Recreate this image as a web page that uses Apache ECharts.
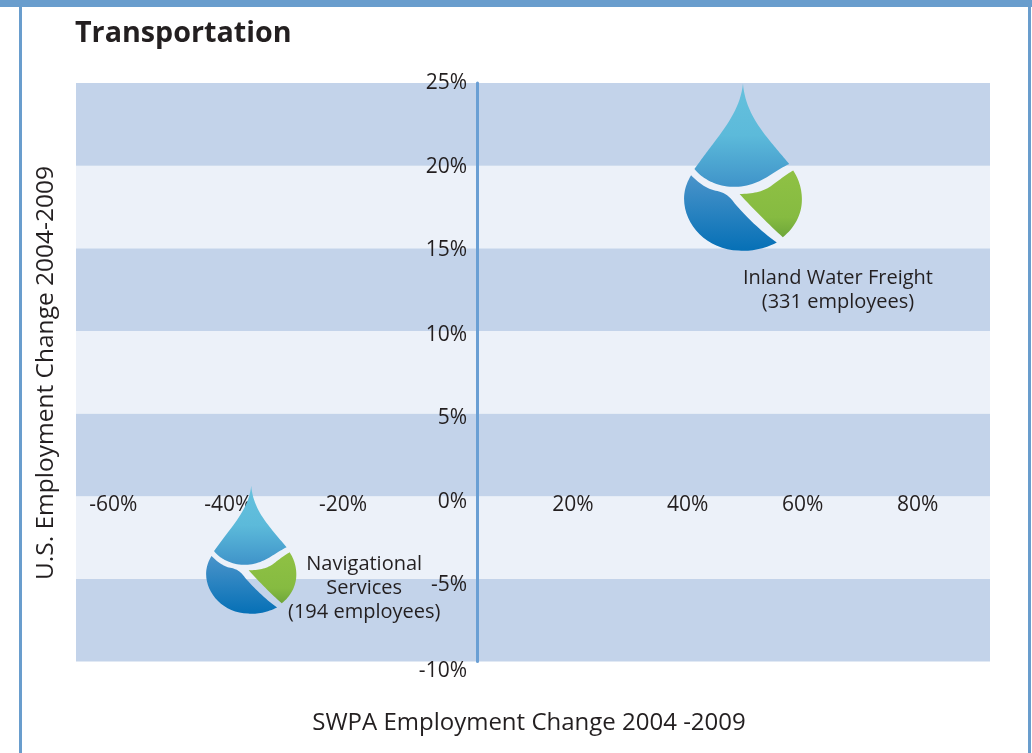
<!doctype html>
<html>
<head>
<meta charset="utf-8">
<title>Transportation</title>
<script src="https://cdn.jsdelivr.net/npm/echarts@6/dist/echarts.min.js"></script>
<style>html,body{margin:0;padding:0;background:#fff}</style>
</head>
<body>
<div id="chart" style="width:1032px;height:753px;"></div>
<script>
var names = ['Inland Water Freight', 'Navigational\nServices'];
var swpaChange = [46.3, -39.3];
var usChange = [18, -4.7];
var employees = [331, 194];
var xTicks = [-60, -40, -20, 20, 40, 60, 80];
var yTicks = [-10, -5, 0, 5, 10, 15, 20, 25];

var textColor = '#231f20';
var fontName = '"Open Sans", "Noto Sans", sans-serif';
var frameColor = '#699dcd';

// drop outline, one start point then cubic segments, anchored on the belly centre
var dropTop = [[217, 28],
  [222, 90, 250, 140, 290, 190], [312, 218, 333, 242, 355, 268], [320, 285, 290, 310, 260, 322],
  [220, 340, 170, 342, 130, 325], [105, 315, 85, 300, 72, 283], [91, 257, 110, 231, 130, 205], [175, 145, 210, 95, 217, 28]];
var dropLeft = [[62, 302],
  [85, 325, 105, 340, 130, 347], [160, 352, 175, 362, 193, 387], [228, 427, 268, 467, 318, 503],
  [280, 522, 240, 530, 205, 527], [110, 525, 41, 450, 41, 372], [41, 345, 50, 322, 62, 302]];
var dropGreen = [[367, 288],
  [385, 315, 393, 345, 393, 375], [393, 420, 370, 460, 336, 487], [295, 450, 250, 405, 207, 358],
  [245, 357, 275, 352, 300, 335], [320, 320, 345, 300, 367, 288]];
var dropAnchor = [217, 372];

function grad(stops) {
  return new echarts.graphic.LinearGradient(0, 0, 0, 1, stops.map(function (s) {
    return {offset: s[0], color: s[1]};
  }));
}

function samplePiece(piece, cx, cy, k) {
  var pts = [];
  var x0 = piece[0][0], y0 = piece[0][1];
  for (var i = 1; i < piece.length; i++) {
    var c = piece[i];
    for (var j = 0; j < 16; j++) {
      var t = j / 16, u = 1 - t;
      var x = u*u*u*x0 + 3*u*u*t*c[0] + 3*u*t*t*c[2] + t*t*t*c[4];
      var y = u*u*u*y0 + 3*u*u*t*c[1] + 3*u*t*t*c[3] + t*t*t*c[5];
      pts.push([cx + (x - dropAnchor[0]) * k, cy + (y - dropAnchor[1]) * k]);
    }
    x0 = c[4]; y0 = c[5];
  }
  return pts;
}

// label placement relative to the drop
var labelDx = [95, 113];
var labelDy = [92, 14];

function renderDrop(params, api) {
  var p = api.coord([api.value(0), api.value(1)]);
  var k = Math.sqrt(api.value(2)) * 0.0184;
  var i = params.dataIndex;
  var label = names[i] + '\n(' + employees[i] + ' employees)';
  return {
    type: 'group',
    children: [
      {type: 'polygon', shape: {points: samplePiece(dropTop, p[0], p[1], k)},
        style: {fill: grad([[0, '#66c1dd'], [0.5, '#5cbada'], [1, '#3f93c9']])}},
      {type: 'polygon', shape: {points: samplePiece(dropLeft, p[0], p[1], k)},
        style: {fill: grad([[0, '#4a94ca'], [1, '#0670b6']])}},
      {type: 'polygon', shape: {points: samplePiece(dropGreen, p[0], p[1], k)},
        style: {fill: grad([[0, '#8fc144'], [0.7, '#86bb41'], [1, '#6ea63a']])}},
      {type: 'text', x: p[0] + labelDx[i], y: p[1] + labelDy[i], z2: 5,
        style: {text: label, x: 0, y: 0, align: 'center', verticalAlign: 'middle',
          fill: textColor, font: '20px ' + fontName, lineHeight: 24}}
    ]
  };
}

// tick labels in the original drift a little from the band edges
var yNudge = {'25': 0, '20': 1, '15': 2, '10': 4, '5': 4, '0': 6, '-5': 6, '-10': 10};
var yRich = {};
Object.keys(yNudge).forEach(function (v) {
  yRich['v' + yNudge[v]] = {padding: [2 * yNudge[v], 0, 0, 0]};
});

var chart = echarts.init(document.getElementById('chart'));
chart.setOption({
  animation: false,
  textStyle: {fontFamily: fontName, color: textColor},
  graphic: [
    {type: 'rect', shape: {x: 0, y: 0, width: 1032, height: 7}, style: {fill: frameColor}},
    {type: 'rect', shape: {x: 19, y: 0, width: 3, height: 753}, style: {fill: frameColor}},
    {type: 'rect', shape: {x: 1028, y: 0, width: 3, height: 753}, style: {fill: frameColor}},
    {type: 'text', x: 75, y: 34, style: {text: 'Transportation', fill: textColor,
      font: 'bold 28.7px ' + fontName, verticalAlign: 'middle'}},
    {type: 'text', x: 529, y: 723, style: {text: 'SWPA Employment Change 2004 -2009', fill: textColor,
      font: '24px ' + fontName, align: 'center', verticalAlign: 'middle'}},
    {type: 'text', x: 46, y: 373, rotation: Math.PI / 2, style: {text: 'U.S. Employment Change 2004-2009', fill: textColor,
      font: '24.5px ' + fontName, align: 'center', verticalAlign: 'middle'}}
  ],
  grid: {left: 76, top: 83, width: 914, height: 578.5},
  xAxis: {
    type: 'value',
    min: -69.8,
    max: 89.3,
    axisLine: {show: false},
    axisTick: {show: false},
    splitLine: {show: false},
    axisLabel: {
      customValues: xTicks,
      margin: -167,
      padding: [0, 38, 0, 0],
      fontSize: 21,
      color: textColor,
      formatter: '{value}%'
    }
  },
  yAxis: {
    type: 'value',
    min: -10,
    max: 25,
    interval: 5,
    axisLine: {show: true, onZero: true, lineStyle: {color: '#6a9fd4', width: 3}},
    axisTick: {show: false},
    splitLine: {show: false},
    splitArea: {show: true, areaStyle: {color: ['#c3d3ea', '#ecf1f9'], opacity: 1}},
    axisLabel: {
      customValues: yTicks,
      margin: -391,
      fontSize: 21,
      color: textColor,
      rich: yRich,
      formatter: function (v) {
        var n = yNudge[v];
        return n ? '{v' + n + '|' + v + '%}' : v + '%';
      }
    }
  },
  series: [{
    type: 'custom',
    coordinateSystem: 'cartesian2d',
    clip: false,
    encode: {x: 0, y: 1},
    renderItem: renderDrop,
    data: swpaChange.map(function (x, i) { return [x, usChange[i], employees[i]]; })
  }]
});
</script>
</body>
</html>
